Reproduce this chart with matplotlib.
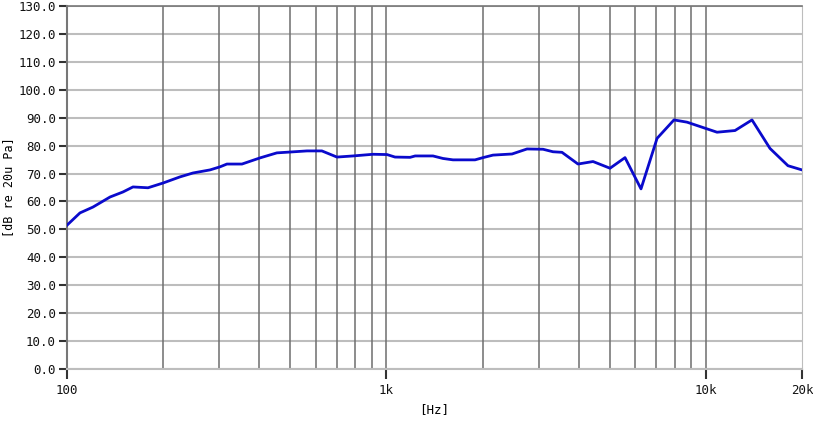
import matplotlib
matplotlib.use("Agg")
import matplotlib.pyplot as plt
from matplotlib.ticker import FixedLocator, NullLocator, NullFormatter

freq_hz = [100, 109.8, 120.6, 136.4, 149.7, 160.9, 179.3, 199.8, 225.8, 248, 280.4,
           301.3, 316.7, 353, 402, 454, 499, 564, 628, 700, 786, 907.8, 1004, 1064,
           1186, 1230, 1399, 1503, 1616, 1894, 2006, 2156, 2473, 2755, 3092, 3322,
           3545, 3979, 4434, 5012, 5584, 6266, 7035, 7948, 8730, 10084, 10839,
           12340, 13947, 15877, 18077, 20000]
level_db = [51.5, 55.9, 58.0, 61.6, 63.4, 65.2, 64.9, 66.6, 68.8, 70.2, 71.3,
            72.4, 73.4, 73.4, 75.6, 77.4, 77.7, 78.1, 78.1, 75.9, 76.3, 76.9, 76.8, 75.9,
            75.8, 76.3, 76.3, 75.4, 74.9, 74.9, 75.7, 76.6, 77.0, 78.8, 78.7, 77.8,
            77.6, 73.4, 74.3, 71.9, 75.7, 64.5, 82.6, 89.2, 88.4, 86.0, 84.8,
            85.4, 89.2, 79.0, 72.8, 71.3]

y_ticks = [0, 10, 20, 30, 40, 50, 60, 70, 80, 90, 100, 110, 120, 130]
x_ticks = [100, 1000, 10000, 20000]
x_tick_labels = ["100", "1k", "10k", "20k"]
x_grid = [200, 300, 400, 500, 600, 700, 800, 900, 1000,
          2000, 3000, 4000, 5000, 6000, 7000, 8000, 9000, 10000]

fig = plt.figure(figsize=(8.13, 4.22), dpi=100)
ax = fig.add_axes([67/813, 1-369/422, (802-67)/813, (369-6)/422])
ax.set_xscale("log")
ax.set_xlim(100, 20000)
ax.set_ylim(0, 130)

for yv in y_ticks:
    ax.axhline(yv, color="#bdbdbd", lw=1.5, zorder=1)
for xv in x_grid:
    ax.axvline(xv, color="#6e6e6e", lw=1.1, zorder=1)

ax.plot(freq_hz, level_db, color="#0a0acc", lw=2.0, zorder=3)

ax.xaxis.set_major_locator(FixedLocator(x_ticks))
ax.set_xticklabels(x_tick_labels)
ax.xaxis.set_minor_locator(NullLocator())
ax.xaxis.set_minor_formatter(NullFormatter())
ax.set_yticks(y_ticks)
ax.set_yticklabels([f"{v:.1f}" for v in y_ticks])

mono = "DejaVu Sans Mono"
for lab in ax.get_xticklabels() + ax.get_yticklabels():
    lab.set_fontfamily(mono)
    lab.set_fontsize(9)
    lab.set_color("#111111")

ax.tick_params(axis="y", direction="out", length=6, width=1.5, color="#333333", pad=2)
ax.tick_params(axis="x", direction="out", length=7, width=1.5, color="#333333", pad=4)

ax.set_xlabel("[Hz]", fontfamily=mono, fontsize=9, labelpad=4)
ax.set_ylabel("[dB re 20u Pa]", fontfamily=mono, fontsize=8.5)
ax.yaxis.set_label_coords((15 - 67) / 735, 0.5)

ax.spines["left"].set_color("#777777")
ax.spines["left"].set_linewidth(1.5)
ax.spines["top"].set_color("#777777")
ax.spines["top"].set_linewidth(1.2)
ax.spines["right"].set_color("#bdbdbd")
ax.spines["bottom"].set_color("#bdbdbd")
ax.spines["bottom"].set_linewidth(1.5)

fig.savefig("out.png", dpi=100)
